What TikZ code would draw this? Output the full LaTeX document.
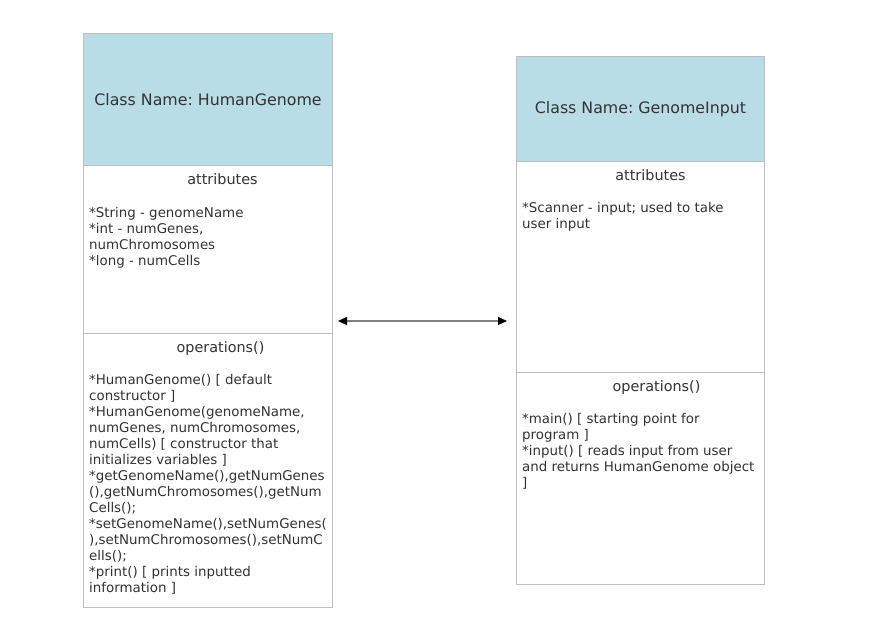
\documentclass[tikz,border=0pt]{standalone}
\usepackage{fontspec}
\setmainfont{DejaVu Sans}
\frenchspacing
\usetikzlibrary{positioning,arrows.meta}
\definecolor{namefill}{HTML}{B8DDE7}
\definecolor{linegray}{HTML}{BFBFBF}
\definecolor{inkgray}{HTML}{333333}
\tikzset{
  classpart/.style={draw=linegray,line width=1pt,anchor=north west,inner sep=0pt},
  classname/.style={classpart,fill=namefill,text=inkgray,font=\fontsize{15.8}{18}\selectfont},
  partname/.style={anchor=base,inner sep=0pt,text=inkgray,font=\fontsize{14.4}{17}\selectfont},
  members/.style={anchor=north west,inner sep=0pt,align=left,text=inkgray,font=\fontsize{13.4}{16}\selectfont},
  assoc/.style={draw=gray,line width=1.3pt,{Triangle[black,length=9pt,width=8pt]}-{Triangle[black,length=9pt,width=8pt]}},
}

\begin{document}
\begin{tikzpicture}[x=1pt,y=-1pt]
    \useasboundingbox (0,0) rectangle (873,643);
    %
    \node[classname,minimum width=249pt,minimum height=132pt] (hgName) at (83,33) {Class Name: HumanGenome};
    \node[classpart,minimum width=249pt,minimum height=168pt] (hgAttr) at (83,165) {};
    \node[classpart,minimum width=249pt,minimum height=274pt] (hgOps) at (83,333) {};
    %
    \node[classname,minimum width=248pt,minimum height=105pt] (gnName) at (516,56) {Class Name: GenomeInput};
    \node[classpart,minimum width=248pt,minimum height=211pt] (gnAttr) at (516,161) {};
    \node[classpart,minimum width=248pt,minimum height=212pt] (gnOps) at (516,372) {};
    %
    \node[partname] (hgAttrT) at ([shift={(14.5pt,-19pt)}]hgAttr.north) {attributes};
    \node[partname] (hgOpsT) at ([shift={(12.5pt,-19pt)}]hgOps.north) {operations()};
    \node[partname] (gnAttrT) at ([shift={(10pt,-19pt)}]gnAttr.north) {attributes};
    \node[partname] (gnOpsT) at ([shift={(16pt,-19pt)}]gnOps.north) {operations()};
    %
    \node[members,below right=41pt and 6pt of hgAttr.north west] (hgAttrL)
      {\strut*String - genomeName\\{}*int - numGenes,\\numChromosomes\\{}*long - numCells};
    \node[members,below right=40.5pt and 6pt of hgOps.north west] (hgOpsL)
      {\strut*HumanGenome() [ default\\constructor ]\\{}*HumanGenome(genomeName,\\numGenes, numChromosomes,\\numCells) [ constructor that\\initializes variables ]\\{}*getGenomeName(),getNumGenes\\(),getNumChromosomes(),getNum\\Cells();\\{}*setGenomeName(),setNumGenes(\\),setNumChromosomes(),setNumC\\ells();\\{}*print() [ prints inputted\\information ]};
    \node[members,below right=40.5pt and 6pt of gnAttr.north west] (gnAttrL)
      {\strut*Scanner - input; used to take\\user input};
    \node[members,below right=40.5pt and 6pt of gnOps.north west] (gnOpsL)
      {\strut*main() [ starting point for\\program ]\\{}*input() [ reads input from user\\and returns HumanGenome object\\{}]};
    %
    \draw[assoc,shorten <=5pt,shorten >=9pt] ([yshift=13pt]hgAttr.south east) -- ([yshift=13pt]hgAttr.south east -| gnAttr.west);
\end{tikzpicture}
\end{document}
